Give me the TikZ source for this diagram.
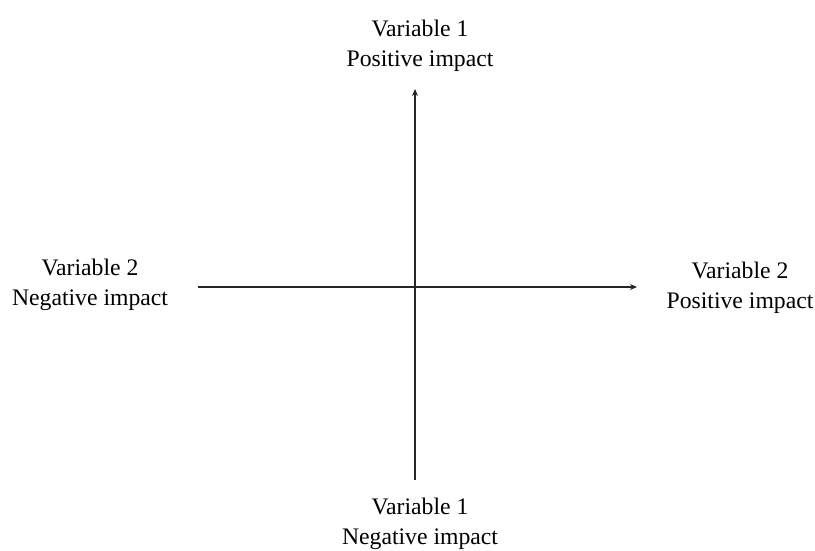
\documentclass[tikz,border=0pt]{standalone}
\usepackage{fontspec}
\setmainfont{Liberation Serif}
\usetikzlibrary{arrows.meta}
\begin{document}
\begin{tikzpicture}[x=1pt,y=-1pt,
  lbl/.style={align=center,inner sep=0pt,font=\fontsize{23.7}{30}\selectfont},
  axis/.style={line width=1.6pt,color=black!85,-{Stealth[length=7pt,width=6pt]}}]
\useasboundingbox (0,0) rectangle (815,550);
\node[lbl] (top) at (420,45.5) {Variable 1\\Positive impact};
\node[lbl] (bot) at (420,523.5) {Variable 1\\Negative impact};
\node[lbl] (left) at (90,284.5) {Variable 2\\Negative impact};
\node[lbl] (right) at (740,287.5) {Variable 2\\Positive impact};
\coordinate (vb) at (415,480);
\coordinate (vt) at (415,89);
\coordinate (hl) at (198,287);
\coordinate (hr) at (637,287);
\draw[axis] (vb) -- (vt);
\draw[axis] (hl) -- (hr);
\end{tikzpicture}
\end{document}
